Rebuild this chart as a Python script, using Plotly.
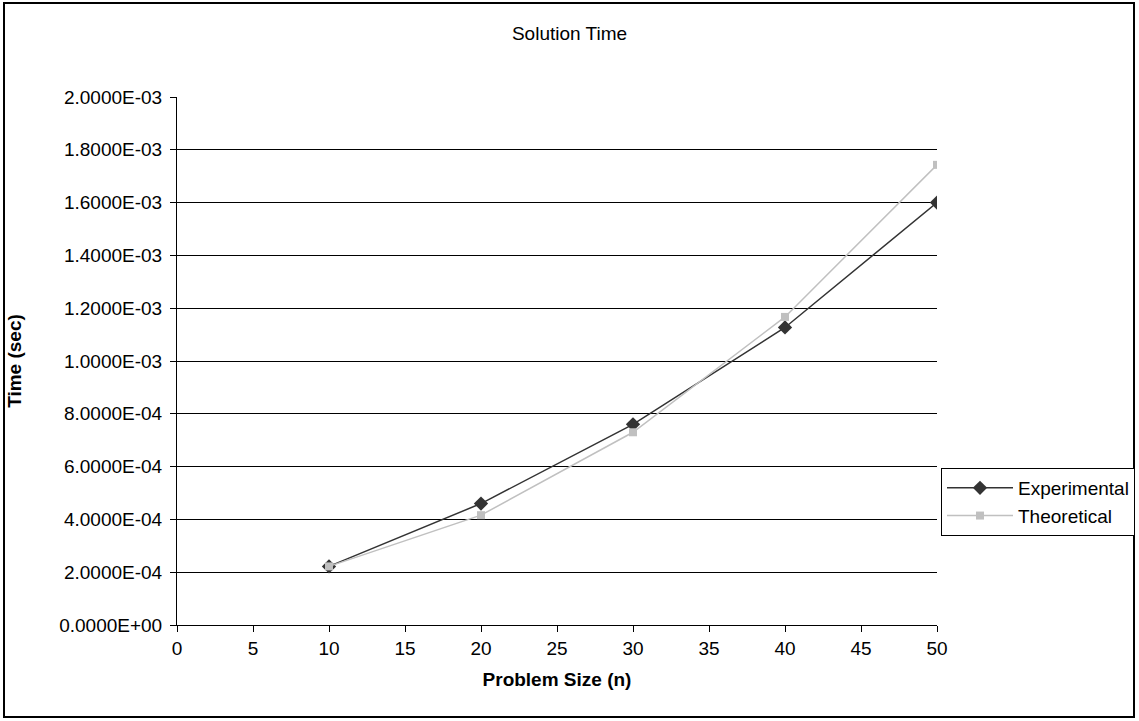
import plotly.graph_objects as go

# ---- data ----
problem_size = [10, 20, 30, 40, 50]
experimental = [2.22e-4, 4.60e-4, 7.60e-4, 1.127e-3, 1.600e-3]
theoretical = [2.22e-4, 4.16e-4, 7.30e-4, 1.167e-3, 1.743e-3]

y_tick_vals = [0.0, 0.0002, 0.0004, 0.0006, 0.0008, 0.0010, 0.0012, 0.0014, 0.0016, 0.0018, 0.0020]
y_tick_text = ["0.0000E+00", "2.0000E-04", "4.0000E-04", "6.0000E-04", "8.0000E-04",
               "1.0000E-03", "1.2000E-03", "1.4000E-03", "1.6000E-03", "1.8000E-03", "2.0000E-03"]
x_tick_vals = [0, 5, 10, 15, 20, 25, 30, 35, 40, 45, 50]

# ---- layout constants (pixels) ----
W, H = 1139, 721
L, R, T, B = 177, 937, 97, 625
pw, ph = R - L, B - T

def px_x(x):
    return (x - L) / pw

def px_y(y):
    return (B - y) / ph

FONT = "Liberation Sans, Arial, sans-serif"

fig = go.Figure()
fig.add_trace(go.Scatter(
    x=problem_size, y=experimental, name="Experimental", mode="lines+markers",
    line=dict(color="#333333", width=1.5),
    marker=dict(symbol="diamond", size=11, color="#333333"),
))
fig.add_trace(go.Scatter(
    x=problem_size, y=theoretical, name="Theoretical", mode="lines+markers",
    line=dict(color="#c0c0c0", width=1.5),
    marker=dict(symbol="square", size=8, color="#c0c0c0"),
))

fig.update_layout(
    width=W, height=H,
    margin=dict(l=L, r=W - R, t=T, b=H - B, autoexpand=False),
    paper_bgcolor="white", plot_bgcolor="white",
    font=dict(family=FONT, size=19, color="black"),
    title=dict(text="Solution Time", x=0.5, xref="container", xanchor="center",
               y=1 - 33 / H, yref="container", yanchor="middle",
               font=dict(family=FONT, size=19, color="black")),
    xaxis=dict(
        range=[0, 50], tickmode="array", tickvals=x_tick_vals,
        showgrid=False, zeroline=False, showline=True, linecolor="black", linewidth=1,
        ticks="outside", ticklen=6, tickcolor="black", tickwidth=1,
        tickfont=dict(family=FONT, size=19, color="black"),
        title=dict(text="<b>Problem Size (n)</b>", standoff=14,
                   font=dict(family=FONT, size=19, color="black")),
    ),
    yaxis=dict(
        range=[0, 0.0020], tickmode="array", tickvals=y_tick_vals, ticktext=y_tick_text,
        showgrid=True, gridcolor="black", gridwidth=1, zeroline=False,
        showline=True, linecolor="black", linewidth=1,
        ticks="outside", ticklen=6, tickcolor="black", tickwidth=1,
        ticklabelstandoff=4,
        tickfont=dict(family=FONT, size=19, color="black"),
        title=dict(text="<b>Time (sec)</b>", standoff=32,
                   font=dict(family=FONT, size=19, color="black")),
    ),
    legend=dict(
        x=px_x(941), y=px_y(468), xanchor="left", yanchor="top",
        bordercolor="black", borderwidth=1, bgcolor="white",
        font=dict(family=FONT, size=19, color="black"),
        itemwidth=66, tracegroupgap=0,
    ),
    showlegend=True,
)

# outer chart border
fig.add_shape(type="rect", xref="paper", yref="paper",
              x0=px_x(4), x1=px_x(1134), y0=px_y(717), y1=px_y(3),
              line=dict(color="black", width=2), fillcolor="rgba(0,0,0,0)", layer="below")

fig.write_html("out.html")
